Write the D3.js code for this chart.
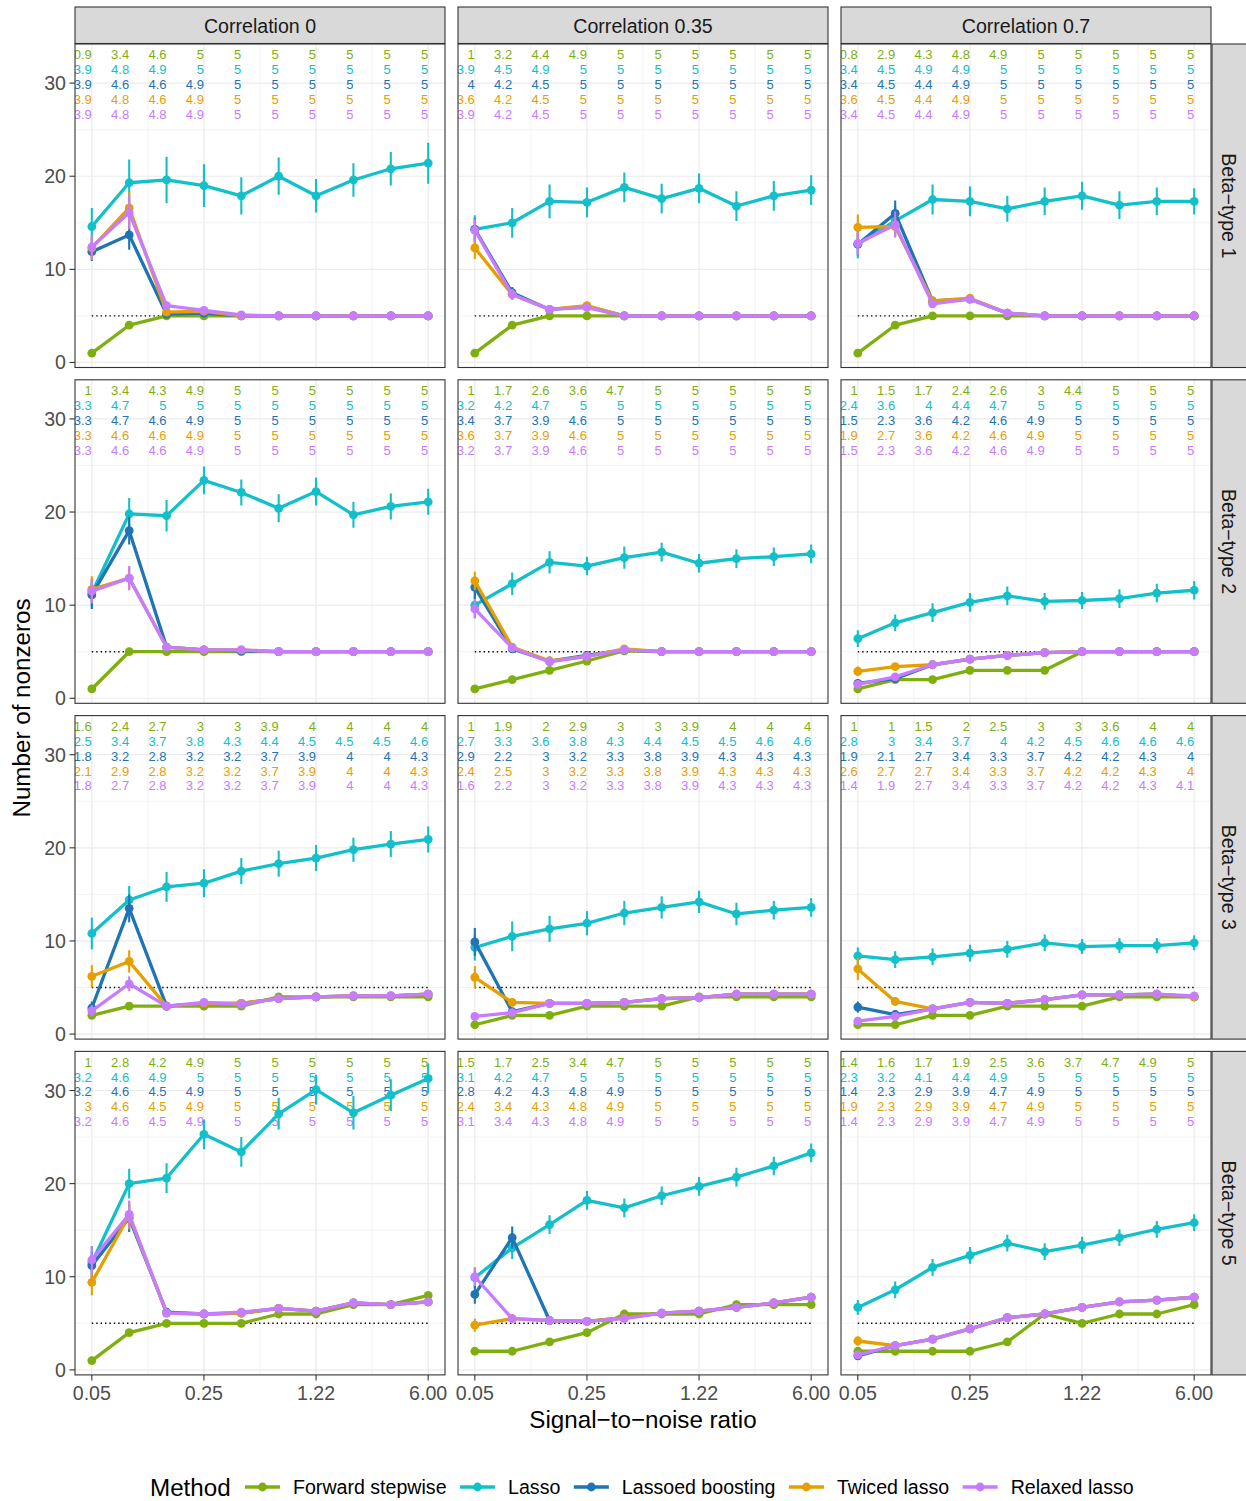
<!DOCTYPE html>
<html><head><meta charset="utf-8">
<script src="https://cdn.jsdelivr.net/npm/d3@7"></script>
<style>body{margin:0;background:#fff;} svg{display:block;font-family:"Liberation Sans",Arial,sans-serif;}</style>
</head><body>
<svg id="chart" width="1246" height="1501"></svg>
<script>
const snrLabels = ["0.05","0.09","0.14","0.25","0.42","0.71","1.22","2.07","3.52","6.00"];
const xTickIdx = [1,4,7,10];
const yTicks = [0,10,20,30];
const correlations = ["Correlation 0","Correlation 0.35","Correlation 0.7"];
const betaTypes = ["Beta\u2212type 1","Beta\u2212type 2","Beta\u2212type 3","Beta\u2212type 5"];
const methods = ["Forward stepwise","Lasso","Lassoed boosting","Twiced lasso","Relaxed lasso"];
const colors = ["#7FAF0F","#12C0C9","#1F74B4","#E69F00","#C77CFF"];

// panels ordered: row (beta type) major, column (correlation) minor
const forwardStepwise = [
 [1,4,5,5,5,5,5,5,5,5],[1,4,5,5,5,5,5,5,5,5],[1,4,5,5,5,5,5,5,5,5],
 [1,5,5,5,5,5,5,5,5,5],[1,2,3,4,5.1,5,5,5,5,5],[1,2,2,3,3,3,5,5,5,5],
 [2,3,3,3,3,4,4,4,4,4],[1,2,2,3,3,3,4,4,4,4],[1,1,2,2,3,3,3,4,4,4],
 [1,4,5,5,5,6,6,7,7,8],[2,2,3,4,6,6,6,7,7,7],[2,2,2,2,3,6,5,6,6,7]
];
const lasso = [
 [14.6,19.3,19.6,19.0,17.9,20.0,17.9,19.6,20.8,21.4],
 [14.3,15.0,17.3,17.2,18.8,17.6,18.7,16.8,17.9,18.5],
 [12.7,15.2,17.5,17.3,16.5,17.3,17.9,16.9,17.3,17.3],
 [11.3,19.8,19.6,23.4,22.1,20.4,22.2,19.7,20.6,21.1],
 [10.0,12.3,14.6,14.2,15.1,15.7,14.5,15.0,15.2,15.5],
 [6.4,8.1,9.2,10.3,11.0,10.4,10.5,10.7,11.3,11.6],
 [10.8,14.4,15.8,16.2,17.5,18.3,18.9,19.8,20.4,20.9],
 [9.3,10.5,11.3,11.9,13.0,13.6,14.2,12.9,13.3,13.6],
 [8.4,8.0,8.3,8.7,9.1,9.8,9.4,9.5,9.5,9.8],
 [11.5,20.0,20.6,25.3,23.4,27.5,30.1,27.6,29.5,31.3],
 [9.9,13.1,15.6,18.2,17.4,18.7,19.7,20.7,21.9,23.3],
 [6.7,8.6,11.0,12.3,13.6,12.7,13.4,14.2,15.1,15.8]
];
const lassoedBoosting = [
 [11.9,13.7,5.2,5.3,5,5,5,5,5,5],
 [14.3,7.5,5.7,6.0,5,5,5,5,5,5],
 [12.7,16.0,6.6,6.8,5.3,5,5,5,5,5],
 [11.1,18.0,5.5,5.2,5.1,5,5,5,5,5],
 [11.9,5.3,4.0,4.6,5.2,5,5,5,5,5],
 [1.6,2.1,3.6,4.2,4.6,4.9,5,5,5,5],
 [2.8,13.5,3.0,3.3,3.3,3.8,4.0,4.1,4.1,4.3],
 [9.9,2.4,3.3,3.3,3.4,3.8,3.9,4.3,4.3,4.3],
 [2.9,2.1,2.7,3.4,3.3,3.7,4.2,4.2,4.3,4.0],
 [11.2,16.3,6.2,6.0,6.1,6.6,6.3,7.2,7.0,7.3],
 [8.1,14.2,5.3,5.2,5.6,6.1,6.3,6.7,7.2,7.8],
 [1.5,2.6,3.3,4.4,5.6,6.0,6.7,7.3,7.5,7.8]
];
const twicedLasso = [
 [12.3,16.6,5.4,5.5,5,5,5,5,5,5],
 [12.3,7.3,5.7,6.1,5,5,5,5,5,5],
 [14.5,14.6,6.6,6.9,5.3,5,5,5,5,5],
 [11.7,12.9,5.5,5.2,5.2,5,5,5,5,5],
 [12.6,5.5,4.0,4.5,5.3,5,5,5,5,5],
 [2.9,3.4,3.6,4.2,4.6,4.9,5,5,5,5],
 [6.2,7.8,3.0,3.3,3.3,3.8,4.0,4.1,4.1,4.3],
 [6.1,3.4,3.3,3.3,3.4,3.8,3.9,4.3,4.3,4.3],
 [7.0,3.5,2.7,3.4,3.3,3.7,4.2,4.2,4.3,4.0],
 [9.4,16.6,6.1,6.0,6.1,6.6,6.3,7.2,7.0,7.3],
 [4.8,5.5,5.3,5.2,5.6,6.1,6.3,6.7,7.2,7.8],
 [3.1,2.6,3.3,4.4,5.6,6.0,6.7,7.3,7.5,7.8]
];
const relaxedLasso = [
 [12.4,16.1,6.1,5.6,5.1,5,5,5,5,5],
 [14.2,7.3,5.7,5.9,5,5,5,5,5,5],
 [12.8,14.8,6.3,6.8,5.3,5,5,5,5,5],
 [11.5,12.9,5.5,5.2,5.2,5,5,5,5,5],
 [9.6,5.4,3.9,4.5,5.2,5,5,5,5,5],
 [1.5,2.3,3.6,4.2,4.6,4.9,5,5,5,5],
 [2.5,5.4,3.0,3.4,3.2,3.8,4.0,4.1,4.1,4.3],
 [1.9,2.3,3.3,3.3,3.4,3.8,3.9,4.3,4.3,4.3],
 [1.4,1.9,2.7,3.4,3.3,3.7,4.2,4.2,4.3,4.1],
 [11.8,16.7,6.1,6.0,6.2,6.6,6.3,7.2,7.0,7.3],
 [10.0,5.5,5.3,5.2,5.5,6.1,6.3,6.7,7.2,7.8],
 [1.6,2.6,3.3,4.4,5.6,6.0,6.7,7.3,7.5,7.8]
];
// half-lengths of error bars
const forwardStepwiseErr = [
 [0.2,0.3,0.1,0,0,0,0,0,0,0],[0.2,0.3,0.1,0,0,0,0,0,0,0],[0.2,0.3,0.1,0,0,0,0,0,0,0],
 [0.2,0.1,0.1,0,0,0,0,0,0,0],[0.2,0.2,0.2,0.2,0.1,0,0,0,0,0],[0.2,0.2,0.2,0.2,0.2,0.2,0.1,0,0,0],
 [0.2,0.2,0.2,0.2,0.2,0.2,0.1,0.1,0.1,0.1],[0.2,0.2,0.2,0.2,0.2,0.2,0.2,0.1,0.1,0.1],[0.2,0.2,0.2,0.2,0.2,0.2,0.2,0.2,0.1,0.1],
 [0.2,0.3,0.2,0.2,0.2,0.2,0.2,0.2,0.2,0.3],[0.2,0.2,0.2,0.2,0.2,0.2,0.2,0.2,0.2,0.2],[0.2,0.2,0.2,0.2,0.2,0.2,0.2,0.2,0.2,0.2]
];
const lassoErr = [
 [2.0,2.5,2.5,2.3,2.0,2.0,1.8,1.8,1.8,2.2],
 [1.5,1.6,1.8,1.6,1.6,1.6,1.6,1.6,1.6,1.6],
 [1.5,1.6,1.6,1.6,1.4,1.5,1.5,1.5,1.5,1.4],
 [1.5,1.7,1.7,1.5,1.4,1.5,1.5,1.4,1.4,1.4],
 [1.4,1.2,1.2,1.0,1.2,1.0,1.0,1.0,1.0,1.0],
 [0.9,0.9,1.0,1.0,1.0,0.9,0.9,1.0,1.0,1.0],
 [1.7,1.5,1.6,1.5,1.4,1.4,1.4,1.3,1.4,1.4],
 [1.4,1.6,1.4,1.3,1.3,1.2,1.2,1.2,1.0,1.0],
 [0.9,0.9,0.9,0.9,0.9,0.9,0.8,0.8,0.8,0.8],
 [1.8,1.6,1.6,1.6,1.6,1.7,1.6,1.8,1.7,1.6],
 [1.1,1.2,1.0,1.0,1.0,1.0,1.0,1.0,1.0,1.0],
 [0.8,0.9,0.9,0.9,0.9,0.9,0.9,0.9,0.9,0.9]
];
const lassoedBoostingErr = [
 [1.0,1.6,0.3,0.3,0.1,0.1,0.1,0.1,0.1,0.1],
 [1.2,0.6,0.3,0.3,0.1,0.1,0.1,0.1,0.1,0.1],
 [1.2,1.4,0.4,0.4,0.2,0.1,0.1,0.1,0.1,0.1],
 [1.5,1.5,0.3,0.2,0.1,0.1,0.1,0.1,0.1,0.1],
 [1.2,0.4,0.3,0.3,0.2,0.1,0.1,0.1,0.1,0.1],
 [0.4,0.4,0.3,0.3,0.3,0.2,0.1,0.1,0.1,0.1],
 [0.7,1.5,0.3,0.3,0.3,0.3,0.2,0.2,0.2,0.2],
 [1.5,0.4,0.3,0.3,0.3,0.3,0.2,0.2,0.2,0.2],
 [0.6,0.4,0.3,0.3,0.3,0.3,0.2,0.2,0.2,0.2],
 [1.5,1.5,0.4,0.4,0.4,0.4,0.4,0.4,0.4,0.4],
 [1.0,1.2,0.4,0.4,0.4,0.4,0.4,0.4,0.4,0.4],
 [0.4,0.4,0.4,0.4,0.4,0.4,0.4,0.4,0.4,0.4]
];
const twicedLassoErr = [
 [1.3,1.8,0.3,0.3,0.1,0.1,0.1,0.1,0.1,0.1],
 [1.2,0.6,0.3,0.3,0.1,0.1,0.1,0.1,0.1,0.1],
 [1.4,1.0,0.4,0.4,0.2,0.1,0.1,0.1,0.1,0.1],
 [1.4,1.2,0.3,0.2,0.1,0.1,0.1,0.1,0.1,0.1],
 [1.0,0.4,0.3,0.3,0.2,0.1,0.1,0.1,0.1,0.1],
 [0.5,0.4,0.3,0.3,0.3,0.2,0.1,0.1,0.1,0.1],
 [1.2,1.2,0.3,0.3,0.3,0.3,0.2,0.2,0.2,0.2],
 [1.2,0.4,0.3,0.3,0.3,0.3,0.2,0.2,0.2,0.2],
 [1.2,0.4,0.3,0.3,0.3,0.3,0.2,0.2,0.2,0.2],
 [1.4,1.5,0.4,0.4,0.4,0.4,0.4,0.4,0.4,0.4],
 [0.7,0.4,0.4,0.4,0.4,0.4,0.4,0.4,0.4,0.4],
 [0.5,0.4,0.4,0.4,0.4,0.4,0.4,0.4,0.4,0.4]
];
const relaxedLassoErr = [
 [1.3,1.8,0.3,0.3,0.1,0.1,0.1,0.1,0.1,0.1],
 [1.2,0.6,0.3,0.3,0.1,0.1,0.1,0.1,0.1,0.1],
 [1.3,1.4,0.4,0.4,0.2,0.1,0.1,0.1,0.1,0.1],
 [1.3,1.3,0.3,0.2,0.1,0.1,0.1,0.1,0.1,0.1],
 [1.0,0.4,0.3,0.3,0.2,0.1,0.1,0.1,0.1,0.1],
 [0.4,0.4,0.3,0.3,0.3,0.2,0.1,0.1,0.1,0.1],
 [0.6,0.8,0.3,0.3,0.3,0.3,0.2,0.2,0.2,0.2],
 [0.4,0.4,0.3,0.3,0.3,0.3,0.2,0.2,0.2,0.2],
 [0.4,0.4,0.3,0.3,0.3,0.3,0.2,0.2,0.2,0.2],
 [1.5,1.5,0.4,0.4,0.4,0.4,0.4,0.4,0.4,0.4],
 [1.0,0.4,0.4,0.4,0.4,0.4,0.4,0.4,0.4,0.4],
 [0.4,0.4,0.4,0.4,0.4,0.4,0.4,0.4,0.4,0.4]
];
// numbers printed at top of each panel (one row per method)
const forwardStepwiseText = [
 [0.9,3.4,4.6,5,5,5,5,5,5,5],[1,3.2,4.4,4.9,5,5,5,5,5,5],[0.8,2.9,4.3,4.8,4.9,5,5,5,5,5],
 [1,3.4,4.3,4.9,5,5,5,5,5,5],[1,1.7,2.6,3.6,4.7,5,5,5,5,5],[1,1.5,1.7,2.4,2.6,3,4.4,5,5,5],
 [1.6,2.4,2.7,3,3,3.9,4,4,4,4],[1,1.9,2,2.9,3,3,3.9,4,4,4],[1,1,1.5,2,2.5,3,3,3.6,4,4],
 [1,2.8,4.2,4.9,5,5,5,5,5,5],[1.5,1.7,2.5,3.4,4.7,5,5,5,5,5],[1.4,1.6,1.7,1.9,2.5,3.6,3.7,4.7,4.9,5]
];
const lassoText = [
 [3.9,4.8,4.9,5,5,5,5,5,5,5],[3.9,4.5,4.9,5,5,5,5,5,5,5],[3.4,4.5,4.9,4.9,5,5,5,5,5,5],
 [3.3,4.7,5,5,5,5,5,5,5,5],[3.2,4.2,4.7,5,5,5,5,5,5,5],[2.4,3.6,4,4.4,4.7,5,5,5,5,5],
 [2.5,3.4,3.7,3.8,4.3,4.4,4.5,4.5,4.5,4.6],[2.7,3.3,3.6,3.8,4.3,4.4,4.5,4.5,4.6,4.6],[2.8,3,3.4,3.7,4,4.2,4.5,4.6,4.6,4.6],
 [3.2,4.6,4.9,5,5,5,5,5,5,5],[3.1,4.2,4.7,5,5,5,5,5,5,5],[2.3,3.2,4.1,4.4,4.9,5,5,5,5,5]
];
const lassoedBoostingText = [
 [3.9,4.6,4.6,4.9,5,5,5,5,5,5],[4,4.2,4.5,5,5,5,5,5,5,5],[3.4,4.5,4.4,4.9,5,5,5,5,5,5],
 [3.3,4.7,4.6,4.9,5,5,5,5,5,5],[3.4,3.7,3.9,4.6,5,5,5,5,5,5],[1.5,2.3,3.6,4.2,4.6,4.9,5,5,5,5],
 [1.8,3.2,2.8,3.2,3.2,3.7,3.9,4,4,4.3],[2.9,2.2,3,3.2,3.3,3.8,3.9,4.3,4.3,4.3],[1.9,2.1,2.7,3.4,3.3,3.7,4.2,4.2,4.3,4],
 [3.2,4.6,4.5,4.9,5,5,5,5,5,5],[2.8,4.2,4.3,4.8,4.9,5,5,5,5,5],[1.4,2.3,2.9,3.9,4.7,4.9,5,5,5,5]
];
const twicedLassoText = [
 [3.9,4.8,4.6,4.9,5,5,5,5,5,5],[3.6,4.2,4.5,5,5,5,5,5,5,5],[3.6,4.5,4.4,4.9,5,5,5,5,5,5],
 [3.3,4.6,4.6,4.9,5,5,5,5,5,5],[3.6,3.7,3.9,4.6,5,5,5,5,5,5],[1.9,2.7,3.6,4.2,4.6,4.9,5,5,5,5],
 [2.1,2.9,2.8,3.2,3.2,3.7,3.9,4,4,4.3],[2.4,2.5,3,3.2,3.3,3.8,3.9,4.3,4.3,4.3],[2.6,2.7,2.7,3.4,3.3,3.7,4.2,4.2,4.3,4],
 [3,4.6,4.5,4.9,5,5,5,5,5,5],[2.4,3.4,4.3,4.8,4.9,5,5,5,5,5],[1.9,2.3,2.9,3.9,4.7,4.9,5,5,5,5]
];
const relaxedLassoText = [
 [3.9,4.8,4.8,4.9,5,5,5,5,5,5],[3.9,4.2,4.5,5,5,5,5,5,5,5],[3.4,4.5,4.4,4.9,5,5,5,5,5,5],
 [3.3,4.6,4.6,4.9,5,5,5,5,5,5],[3.2,3.7,3.9,4.6,5,5,5,5,5,5],[1.5,2.3,3.6,4.2,4.6,4.9,5,5,5,5],
 [1.8,2.7,2.8,3.2,3.2,3.7,3.9,4,4,4.3],[1.6,2.2,3,3.2,3.3,3.8,3.9,4.3,4.3,4.3],[1.4,1.9,2.7,3.4,3.3,3.7,4.2,4.2,4.3,4.1],
 [3.2,4.6,4.5,4.9,5,5,5,5,5,5],[3.1,3.4,4.3,4.8,4.9,5,5,5,5,5],[1.4,2.3,2.9,3.9,4.7,4.9,5,5,5,5]
];
const textRowY = [33.05,31.45,29.85,28.25,26.65];
const trueNonzeros = 5;

const seriesValues = [forwardStepwise, lasso, lassoedBoosting, twicedLasso, relaxedLasso];
const seriesErr = [forwardStepwiseErr, lassoErr, lassoedBoostingErr, twicedLassoErr, relaxedLassoErr];
const seriesText = [forwardStepwiseText, lassoText, lassoedBoostingText, twicedLassoText, relaxedLassoText];

const svg = d3.select("#chart");
const panelW = 370, panelH = 323.5;
const colLeft = c => 75 + c*383;
const rowTop = r => 44 + r*335.8;
const grey20 = "#333333", gridCol = "#ebebeb", tickText = "#4d4d4d";
const smallFont = "19.6px", bigFont = "24.2px";

const defs = svg.append("defs");

for (let r = 0; r < 4; r++) {
  for (let c = 0; c < 3; c++) {
    const p = r*3 + c;
    const x0 = colLeft(c), y0 = rowTop(r);
    const x = d3.scaleLinear().domain([0.55, 10.45]).range([x0, x0 + panelW]);
    const y = d3.scaleLinear().domain([-0.54, 34.2]).range([y0 + panelH, y0]);
    const clipId = "clip" + p;
    defs.append("clipPath").attr("id", clipId).append("rect")
      .attr("x", x0).attr("y", y0).attr("width", panelW).attr("height", panelH);
    const g = svg.append("g");
    g.append("rect").attr("x", x0).attr("y", y0).attr("width", panelW).attr("height", panelH).attr("fill", "#fff");
    const inner = g.append("g").attr("clip-path", `url(#${clipId})`);
    // minor grid
    [5,15,25].forEach(v => inner.append("line").attr("x1", x0).attr("x2", x0+panelW)
      .attr("y1", y(v)).attr("y2", y(v)).attr("stroke", gridCol).attr("stroke-width", 0.6));
    [2.5,5.5,8.5].forEach(v => inner.append("line").attr("y1", y0).attr("y2", y0+panelH)
      .attr("x1", x(v)).attr("x2", x(v)).attr("stroke", gridCol).attr("stroke-width", 0.6));
    // major grid
    yTicks.forEach(v => inner.append("line").attr("x1", x0).attr("x2", x0+panelW)
      .attr("y1", y(v)).attr("y2", y(v)).attr("stroke", gridCol).attr("stroke-width", 1.2));
    xTickIdx.forEach(v => inner.append("line").attr("y1", y0).attr("y2", y0+panelH)
      .attr("x1", x(v)).attr("x2", x(v)).attr("stroke", gridCol).attr("stroke-width", 1.2));
    // text rows
    seriesText.forEach((arr, m) => {
      inner.selectAll(null).data(arr[p]).enter().append("text")
        .attr("x", (d, i) => x(i + 1)).attr("y", y(textRowY[m]))
        .attr("text-anchor", "end").attr("dominant-baseline", "central")
        .attr("font-size", "13px").attr("fill", colors[m])
        .text(d => String(d));
    });
    // dotted reference line
    inner.append("line").attr("x1", x(1)).attr("x2", x(10)).attr("y1", y(trueNonzeros)).attr("y2", y(trueNonzeros))
      .attr("stroke", "#000").attr("stroke-width", 1.4).attr("stroke-dasharray", "1.4,3");
    // series
    seriesValues.forEach((arr, m) => {
      const vals = arr[p], errs = seriesErr[m][p];
      const line = d3.line().x((d, i) => x(i + 1)).y(d => y(d));
      inner.append("path").datum(vals).attr("d", line).attr("fill", "none")
        .attr("stroke", colors[m]).attr("stroke-width", 3.3).attr("stroke-linejoin", "round");
      inner.selectAll(null).data(vals).enter().append("line")
        .attr("x1", (d, i) => x(i + 1)).attr("x2", (d, i) => x(i + 1))
        .attr("y1", (d, i) => y(d - errs[i])).attr("y2", (d, i) => y(d + errs[i]))
        .attr("stroke", colors[m]).attr("stroke-width", 2.1);
      inner.selectAll(null).data(vals).enter().append("circle")
        .attr("cx", (d, i) => x(i + 1)).attr("cy", d => y(d)).attr("r", 4.4)
        .attr("fill", colors[m]);
    });
    g.append("rect").attr("x", x0).attr("y", y0).attr("width", panelW).attr("height", panelH)
      .attr("fill", "none").attr("stroke", grey20).attr("stroke-width", 1.1);
    // y axis
    if (c === 0) {
      yTicks.forEach(v => {
        g.append("line").attr("x1", x0 - 5.5).attr("x2", x0).attr("y1", y(v)).attr("y2", y(v))
          .attr("stroke", grey20).attr("stroke-width", 1.1);
        g.append("text").attr("x", x0 - 9).attr("y", y(v)).attr("text-anchor", "end")
          .attr("dominant-baseline", "central").attr("font-size", smallFont).attr("fill", tickText).text(v);
      });
    }
    // x axis
    if (r === 3) {
      xTickIdx.forEach(v => {
        g.append("line").attr("x1", x(v)).attr("x2", x(v)).attr("y1", y0 + panelH).attr("y2", y0 + panelH + 5.5)
          .attr("stroke", grey20).attr("stroke-width", 1.1);
        g.append("text").attr("x", x(v)).attr("y", y0 + panelH + 25).attr("text-anchor", "middle")
          .attr("font-size", smallFont).attr("fill", tickText).text(snrLabels[v - 1]);
      });
    }
    // top strips
    if (r === 0) {
      svg.append("rect").attr("x", x0).attr("y", 7).attr("width", panelW).attr("height", 36.5)
        .attr("fill", "#d9d9d9").attr("stroke", grey20).attr("stroke-width", 1.1);
      svg.append("text").attr("x", x0 + panelW/2).attr("y", 25.5).attr("text-anchor", "middle")
        .attr("dominant-baseline", "central").attr("font-size", smallFont).attr("fill", "#1a1a1a")
        .text(correlations[c]);
    }
    // right strips
    if (c === 2) {
      const sx = x0 + panelW + 1;
      svg.append("rect").attr("x", sx).attr("y", y0).attr("width", 36).attr("height", panelH)
        .attr("fill", "#d9d9d9").attr("stroke", grey20).attr("stroke-width", 1.1);
      svg.append("text").attr("transform", `translate(${sx + 17},${y0 + panelH/2}) rotate(90)`)
        .attr("text-anchor", "middle").attr("dominant-baseline", "central")
        .attr("font-size", smallFont).attr("fill", "#1a1a1a").text(betaTypes[r]);
    }
  }
}

// axis titles
svg.append("text").attr("transform", "translate(30,708) rotate(-90)").attr("text-anchor", "middle")
  .attr("font-size", bigFont).attr("fill", "#000").text("Number of nonzeros");
svg.append("text").attr("x", 643).attr("y", 1428).attr("text-anchor", "middle")
  .attr("font-size", bigFont).attr("fill", "#000").text("Signal\u2212to\u2212noise ratio");

// legend
const leg = svg.append("g");
const legY = 1487;
leg.append("text").attr("x", 150).attr("y", legY).attr("dominant-baseline", "central")
  .attr("font-size", bigFont).attr("fill", "#000").text("Method");
let lx = 245;
methods.forEach((mName, m) => {
  leg.append("line").attr("x1", lx).attr("x2", lx + 35).attr("y1", legY).attr("y2", legY)
    .attr("stroke", colors[m]).attr("stroke-width", 3.3);
  leg.append("circle").attr("cx", lx + 17.5).attr("cy", legY).attr("r", 4.4).attr("fill", colors[m]);
  const t = leg.append("text").attr("x", lx + 48).attr("y", legY).attr("dominant-baseline", "central")
    .attr("font-size", smallFont).attr("fill", "#000").text(mName);
  lx += 48 + t.node().getComputedTextLength() + 13.5;
});
</script>
</body></html>
